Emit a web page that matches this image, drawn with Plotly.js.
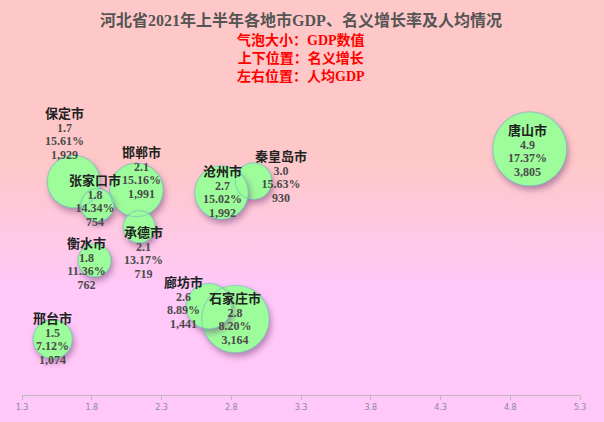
<!DOCTYPE html>
<html>
<head>
<meta charset="utf-8">
<script src="https://cdn.plot.ly/plotly-3.0.1.min.js"></script>
<style>
  html, body { margin: 0; padding: 0; }
  body {
    width: 604px; height: 422px; overflow: hidden;
    background: linear-gradient(to bottom, #ffc8c8 0%, #ffc8c8 38%, #ffc8f8 68%, #ffc8f8 100%);
  }
  #chart { width: 604px; height: 422px; }
  .scatterlayer .trace:first-child .points path {
    filter: drop-shadow(2px 4px 3px rgba(120, 70, 120, 0.55));
  }
</style>
</head>
<body>
<div id="chart"></div>
<script>
// Data
var cities    = ['石家庄市', '唐山市', '秦皇岛市', '邯郸市', '邢台市', '保定市', '张家口市', '承德市', '沧州市', '廊坊市', '衡水市'];
var perCapita = [2.83, 4.94, 2.96, 2.12, 1.52, 1.67, 1.84, 2.14, 2.73, 2.64, 1.82];   // 人均GDP (万元)
var growth    = [8.20, 17.37, 15.63, 15.16, 7.12, 15.61, 14.34, 13.17, 15.02, 8.89, 11.36]; // 名义增长 (%)
var gdp       = [3164, 3805, 930, 1991, 1074, 1929, 754, 719, 1992, 1441, 762];        // GDP (亿元)
var xTicks    = [1.3, 1.8, 2.3, 2.8, 3.3, 3.8, 4.3, 4.8, 5.3];

var titleText = '河北省2021年上半年各地市GDP、名义增长率及人均情况';
var subLines  = ['气泡大小：GDP数值', '上下位置：名义增长', '左右位置：人均GDP'];

// label placement (pixel nudges, as in the reference's overlap avoidance)
var labelShift = {
  '石家庄市': [0, 0], '唐山市': [-2, -2], '秦皇岛市': [27, 4], '邯郸市': [5, 17],
  '邢台市': [0, 0], '保定市': [-9, 48], '张家口市': [-2, 4], '承德市': [4, -26],
  '沧州市': [1, 1], '廊坊市': [-25, 3], '衡水市': [-8, -4]
};

var FONT = '"Liberation Serif", "Times New Roman", "Noto Sans CJK SC", serif';

var markerBase = { sizemode: 'area', sizeref: 1.389, size: gdp };

var fillTrace = {
  type: 'scatter', mode: 'markers', x: perCapita, y: growth,
  marker: Object.assign({}, markerBase, { color: '#9cfd9a', opacity: 1, line: { width: 0 } }),
  hoverinfo: 'skip', showlegend: false
};
var lineTrace = {
  type: 'scatter', mode: 'markers', x: perCapita, y: growth,
  marker: Object.assign({}, markerBase, { color: 'rgba(0,0,0,0)', line: { width: 1.2, color: 'rgba(110,190,190,0.85)' } }),
  hoverinfo: 'skip', showlegend: false
};

var annotations = cities.map(function (c, i) {
  var s = labelShift[c] || [0, 0];
  var txt = '<b><span style="font-size:13px;color:#222">' + c + '</span></b><br>' +
            '<b><span style="font-size:12px">' + perCapita[i].toFixed(1) + '</span></b><br>' +
            '<b><span style="font-size:12px">' + growth[i].toFixed(2) + '%</span></b><br>' +
            '<b><span style="font-size:12px">' + gdp[i].toLocaleString('en-US') + '</span></b>';
  return {
    xref: 'x', yref: 'y', x: perCapita[i], y: growth[i], text: txt, showarrow: false,
    xanchor: 'center', yanchor: 'middle', xshift: s[0], yshift: s[1],
    font: { family: FONT, size: 10.4, color: '#4a4a4a' }
  };
});

annotations.push({
  xref: 'paper', yref: 'paper', x: 0.5, y: 1.143, xanchor: 'center', yanchor: 'middle',
  showarrow: false, text: subLines.join('<br>'),
  font: { family: FONT, size: 14, color: '#ff0000', weight: 'bold' }
});

var layout = {
  width: 604, height: 422,
  margin: { l: 22, r: 24, t: 100, b: 27, pad: 0 },
  paper_bgcolor: 'rgba(0,0,0,0)', plot_bgcolor: 'rgba(0,0,0,0)',
  title: {
    text: titleText, x: 0.5, xref: 'paper', xanchor: 'center',
    y: 1 - 20.5 / 422, yref: 'container', yanchor: 'middle',
    font: { family: FONT, size: 16, color: '#555555', weight: 'bold' }
  },
  xaxis: {
    range: [1.3, 5.3], tickvals: xTicks, ticktext: xTicks.map(function (v) { return v.toFixed(1); }),
    showgrid: false, zeroline: false, showline: true, linecolor: '#bbbbbb', linewidth: 1,
    ticks: 'outside', ticklen: 4, tickcolor: '#bbbbbb',
    tickfont: { family: '"DejaVu Sans", sans-serif', size: 8, color: '#8a8aa0' },
    fixedrange: true
  },
  yaxis: { range: [4.10, 20.01], visible: false, fixedrange: true },
  annotations: annotations,
  showlegend: false
};

Plotly.newPlot('chart', [fillTrace, lineTrace], layout, { displayModeBar: false, staticPlot: true });
</script>
</body>
</html>
